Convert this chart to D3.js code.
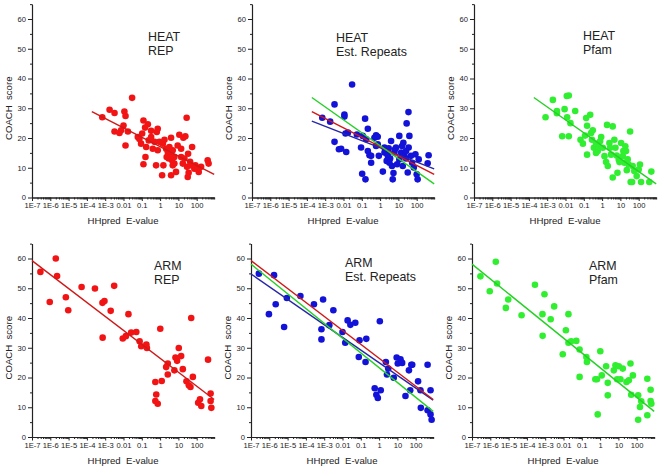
<!DOCTYPE html>
<html><head><meta charset="utf-8">
<script src="https://cdn.jsdelivr.net/npm/d3@7"></script>
<style>body{margin:0;background:#fff}svg{display:block}text{font-family:Arial,"Liberation Sans",sans-serif;fill:#222}</style>
</head><body><svg id="c" width="662" height="470"></svg>
<script>
// ---- data: x = log10(HHpred E-value), y = COACH score ----
const heatRepExp = [-3.16,-2.76,-2.49,-2.49,-2.22,-1.95,-1.89,-2.0,-2.13,-1.89,-1.76,-1.53,-1.22,-1.13,-1.04,-0.98,-0.91,-0.82,-0.76,-0.80,-0.91,-0.67,-0.62,-0.49,-0.40,-0.31,-0.22,-0.18,-0.13,-0.04,0.11,0.18,0.24,0.33,0.36,0.47,0.55,0.60,0.60,0.65,0.69,0.78,0.87,0.96,1.05,1.15,1.24,1.27,1.38,1.45,1.47,1.53,1.56,1.51,1.64,1.69,1.75,1.93,2.02,2.11,2.24,2.60,2.65,0.42,0.51,0.69,1.15,1.33,1.87,-0.13,0.15,-0.49,0.78];
const heatRepScore = [27.0,29.5,28.4,22.2,21.7,28.9,27.4,24.2,22.6,17.5,22.2,33.5,20.3,19.7,18.1,21.5,25.9,23.5,17.0,13.6,11.2,24.6,19.2,20.3,16.4,18.7,10.8,22.0,23.1,18.7,7.5,10.8,19.4,16.4,13.6,13.1,14.7,20.1,7.5,12.5,10.8,13.6,8.6,17.5,21.1,16.4,11.4,20.1,20.6,26.8,10.3,14.7,8.3,6.9,12.0,10.8,17.0,10.8,9.7,8.6,10.3,12.5,11.4,15.3,17.0,15.9,13.6,13.1,9.7,15.9,18.1,22.4,11.4];

const heatEstExp = [-3.16,-2.73,-2.49,-2.49,-2.25,-2.13,-1.95,-1.95,-1.89,-1.85,-1.76,-1.53,-1.27,-1.04,-0.98,-0.95,-0.82,-0.80,-0.76,-0.67,-0.67,-0.58,-0.49,-0.31,-0.22,-0.13,-0.13,-0.07,0.15,0.24,0.24,0.33,0.42,0.47,0.55,0.60,0.65,0.69,0.73,0.78,0.82,0.87,0.93,1.05,1.15,1.20,1.27,1.33,1.42,1.45,1.51,1.55,1.56,1.60,1.69,1.75,1.84,1.93,2.00,2.05,2.11,2.60,2.65,0.36,0.51,1.05,1.24,1.42,-0.22,-0.49];
const heatEstScore = [26.8,25.5,31.3,18.7,16.2,16.4,27.9,27.2,21.5,15.3,21.8,38.0,21.2,16.8,8.0,20.7,26.5,6.1,19.6,23.1,15.6,14.2,11.7,20.1,20.9,20.4,17.9,14.0,8.7,16.8,15.1,15.6,14.0,16.5,13.1,19.0,10.6,6.1,8.2,15.1,16.2,16.8,11.2,20.7,15.1,17.3,18.4,14.0,13.1,24.9,8.4,28.7,16.8,20.7,14.0,11.7,10.1,14.5,7.8,6.1,12.8,11.5,14.2,12.3,11.7,12.8,10.6,15.6,17.3,14.0];

const heatPfamExp = [-3.09,-2.69,-2.47,-2.47,-2.18,-2.05,-1.93,-1.82,-1.91,-1.73,-1.82,-1.47,-1.18,-1.05,-0.93,-0.87,-0.82,-0.82,-0.65,-0.60,-0.55,-0.51,-0.45,-0.33,-0.24,-0.18,-0.11,-0.05,0.22,0.27,0.31,0.40,0.44,0.49,0.58,0.58,0.67,0.73,0.80,0.84,0.91,0.95,1.04,1.16,1.27,1.31,1.35,1.40,1.45,1.53,1.56,1.64,1.67,1.76,1.89,2.00,2.07,2.13,2.58,2.69,0.04,0.13,1.13,1.22,-0.33];
const heatPfamScore = [27.0,32.8,28.3,29.1,20.6,29.7,34.1,34.3,27.0,25.0,20.6,29.1,19.4,18.1,20.8,26.7,24.1,14.4,27.8,21.7,19.4,22.6,16.7,18.1,15.6,17.0,18.9,20.3,11.9,24.4,10.6,18.3,16.7,14.4,23.9,6.7,19.4,16.7,14.1,8.3,12.8,11.9,18.3,15.6,17.2,15.6,9.2,12.8,11.1,22.2,5.2,5.2,10.6,8.9,7.2,9.4,11.1,5.2,5.2,8.7,16.7,13.9,13.9,11.7,15.0];

const armRepExp = [-6.54,-6.03,-5.70,-5.63,-5.15,-5.02,-4.29,-3.56,-3.15,-3.14,-3.04,-2.70,-2.51,-2.04,-1.87,-1.73,-1.58,-1.30,-1.12,-1.03,-0.75,-0.72,-0.26,-0.21,-0.26,-0.13,0.01,0.09,0.33,0.42,0.42,0.78,0.84,0.93,1.02,1.15,1.24,1.44,1.57,1.66,1.70,1.79,2.08,2.18,2.25,2.62,2.76,2.76,2.80];
const armRepScore = [55.5,45.4,60.0,54.1,47.0,42.6,50.4,49.9,45.1,33.4,45.7,42.4,50.8,33.1,33.9,41.3,35.1,35.3,32.2,30.5,31.1,29.9,18.5,14.3,12.1,11.2,36.4,18.8,23.5,24.7,21.0,22.4,26.7,25.6,29.9,27.2,22.8,18.7,17.4,16.8,40.0,20.2,11.5,12.7,10.4,26.0,14.6,12.1,9.8];

const armEstExp = [-6.57,-6.02,-5.74,-5.65,-5.19,-5.04,-4.30,-3.56,-3.15,-3.15,-3.06,-2.72,-2.50,-2.00,-1.85,-1.72,-1.57,-1.30,-1.07,-1.11,-0.74,-0.70,-0.24,-0.15,-0.07,0.04,0.09,0.37,0.43,0.50,0.80,0.96,1.02,1.17,1.26,1.44,1.63,1.76,1.81,1.70,2.13,2.28,2.26,2.65,2.65,2.81,2.81,2.87];
const armEstScore = [54.9,41.3,54.4,44.6,37.0,46.7,47.4,44.6,36.2,32.8,46.2,37.6,42.6,35.3,31.7,39.2,37.7,38.4,32.5,26.9,25.2,33.0,16.4,14.2,13.1,38.9,15.7,25.2,21.0,23.0,19.9,26.7,24.7,26.1,24.9,13.8,22.4,24.3,24.3,15.7,18.7,9.8,15.7,24.3,9.0,15.7,7.6,5.8];

const armPfamExp = [-6.54,-6.03,-5.70,-5.63,-5.15,-5.02,-4.29,-3.56,-3.15,-3.14,-3.04,-2.70,-2.51,-2.04,-1.87,-1.73,-1.73,-1.58,-1.30,-1.12,-1.12,-0.75,-0.72,-0.26,-0.17,-0.13,0.01,0.09,0.33,0.42,0.42,0.75,0.84,0.93,1.02,1.11,1.24,1.44,1.57,1.66,1.70,1.79,2.08,2.08,2.18,2.25,2.58,2.58,2.76,2.76,2.80];
const armPfamScore = [54.0,49.0,58.9,51.6,43.4,46.2,40.9,51.2,41.3,34.0,48.0,39.6,43.9,27.8,35.9,41.3,31.7,32.2,32.3,29.4,20.2,26.9,25.2,19.4,19.4,7.6,28.8,20.7,23.8,18.2,14.0,22.4,24.1,19.4,23.8,19.4,23.0,18.5,19.1,24.7,14.2,20.7,14.0,5.8,10.1,12.0,19.6,7.3,15.9,12.1,11.2];

// linear fits (endpoints): [log10 E start, log10 E end], [score start, score end]
const heatRepFitExp = [-3.73, 2.954], heatRepFitScore = [28.9, 7.8];
const heatEstFitExp = [-3.73, 2.954], heatEstFitScore = [25.7, 9.6];
const heatPfamFitExp = [-3.73, 2.954], heatPfamFitScore = [33.6, 4.6];
const armRepFitExp = [-7, 2.954], armRepFitScore = [59.3, 12.6];
const armEstFitExp = [-7, 2.954], armEstFitScore = [54.8, 12.4];
const armPfamFitExp = [-7, 2.954], armPfamFitScore = [58.1, 8.6];

const yTicks = [0,10,20,30,40,50,60];
const yMinorTicks = [5,15,25,35,45,55,65];
const xTickExps = [-7,-6,-5,-4,-3,-2,-1,0,1,2];
const xTickLabels = ["1E-7","1E-6","1E-5","1E-4","1E-3","0.01","0.1","1","10","100"];
const titles = [["HEAT","REP"],["HEAT","Est. Repeats"],["HEAT","Pfam"],["ARM","REP"],["ARM","Est. Repeats"],["ARM","Pfam"]];

// ---- styling ----
const col = {
  redPt: "#f21414", redLn: "#d01818",
  bluePt: "#1212d8", blueLn: "#2626a8",
  greenPt: "#30ee30", greenLn: "#26d026"
};
const fits = {
  heatRep: [heatRepFitExp, heatRepFitScore], heatEst: [heatEstFitExp, heatEstFitScore], heatPfam: [heatPfamFitExp, heatPfamFitScore],
  armRep: [armRepFitExp, armRepFitScore], armEst: [armEstFitExp, armEstFitScore], armPfam: [armPfamFitExp, armPfamFitScore]
};
const panels = [
  {x0:32, base:197.5, pts:[heatRepExp,heatRepScore], pc:col.redPt, lines:[[fits.heatRep,col.redLn]], title:titles[0], tx:116, ty:41.2},
  {x0:252, base:197.5, pts:[heatEstExp,heatEstScore], pc:col.bluePt, lines:[[fits.heatEst,col.blueLn],[fits.heatRep,col.redLn],[fits.heatPfam,col.greenLn]], title:titles[1], tx:84, ty:41.8},
  {x0:474, base:197.5, pts:[heatPfamExp,heatPfamScore], pc:col.greenPt, lines:[[fits.heatPfam,col.greenLn]], title:titles[2], tx:109, ty:40.2},
  {x0:32, base:437, pts:[armRepExp,armRepScore], pc:col.redPt, lines:[[fits.armRep,col.redLn]], title:titles[3], tx:122, ty:269.5},
  {x0:251, base:437, pts:[armEstExp,armEstScore], pc:col.bluePt, lines:[[fits.armEst,col.blueLn],[fits.armRep,col.redLn],[fits.armPfam,col.greenLn]], title:titles[4], tx:94, ty:266.5},
  {x0:472, base:437, pts:[armPfamExp,armPfamScore], pc:col.greenPt, lines:[[fits.armPfam,col.greenLn]], title:titles[5], tx:117, ty:270}
];

const svg = d3.select("#c");
const decade = 18.3, yUnit = 2.975;
const xMin = 1e-7, xMax = 900;
const titleSize = 12.4, titleLead = 14.2;

panels.forEach(p => {
  const g = svg.append("g");
  const x = d3.scaleLog().domain([xMin, xMax]).range([p.x0, p.x0 + decade * Math.log10(xMax / xMin)]);
  const y = d3.scaleLinear().domain([0, 65]).range([p.base, p.base - 65 * yUnit]);

  // minor x ticks
  const minor = [];
  for (let k = -7; k <= 2; k++) for (let m = 2; m <= 9; m++) { const v = m * Math.pow(10, k); if (v <= xMax) minor.push(v); }
  g.append("g").attr("transform", `translate(0,${p.base})`)
    .call(d3.axisBottom(x).tickValues(minor).tickSize(2).tickSizeOuter(0).tickFormat(""));
  g.append("g").attr("transform", `translate(0,${p.base})`)
    .call(d3.axisBottom(x).tickValues(xTickExps.map(e => Math.pow(10, e))).tickSize(3.5).tickSizeOuter(0)
      .tickFormat((d, i) => xTickLabels[i]).tickPadding(2));
  g.append("g").attr("transform", `translate(${p.x0},0)`)
    .call(d3.axisLeft(y).tickValues(yMinorTicks).tickSize(2).tickSizeOuter(0).tickFormat(""));
  g.append("g").attr("transform", `translate(${p.x0},0)`)
    .call(d3.axisLeft(y).tickValues(yTicks).tickSize(4).tickSizeOuter(0).tickPadding(2));
  g.selectAll(".domain").attr("stroke", "#222").attr("stroke-width", 1.1);
  g.selectAll(".tick line").attr("stroke", "#222");
  g.selectAll(".tick text").style("font-size", "7.6px").attr("fill", "#222");

  // axis titles
  g.append("text").attr("x", (x.range()[0] + x.range()[1]) / 2).attr("y", p.base + 26.5)
    .attr("text-anchor", "middle").style("font-size", "9.6px").style("white-space", "pre").text("HHpred  E-value");
  g.append("text").attr("transform", `translate(${p.x0 - 20.5},${y(30)}) rotate(-90)`)
    .attr("text-anchor", "middle").style("font-size", "9.6px").style("white-space", "pre").text("COACH  score");

  // points
  const pts = d3.zip(p.pts[0], p.pts[1]);
  g.append("g").selectAll("circle").data(pts).join("circle")
    .attr("cx", d => x(Math.pow(10, d[0]))).attr("cy", d => y(d[1])).attr("r", 3.3).attr("fill", p.pc);

  // fit lines
  const line = d3.line().x(d => x(Math.pow(10, d[0]))).y(d => y(d[1]));
  p.lines.forEach(([f, c]) => {
    g.append("path").datum(d3.zip(f[0], f[1])).attr("d", line).attr("fill", "none").attr("stroke", c).attr("stroke-width", 1.4);
  });

  // title (two lines)
  p.title.forEach((s, i) => g.append("text").attr("x", p.x0 + p.tx).attr("y", p.ty + i * titleLead)
    .style("font-size", titleSize + "px").attr("fill", "#111").text(s));
});
</script>
</body></html>
